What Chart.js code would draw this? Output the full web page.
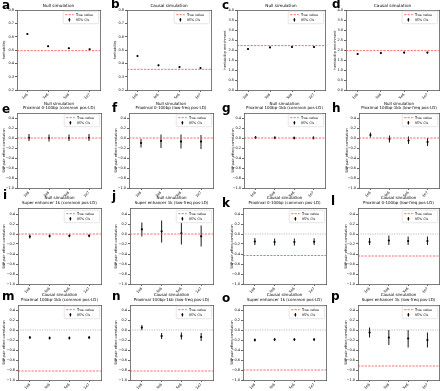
<!DOCTYPE html>
<html><head><meta charset="utf-8">
<script src="https://cdn.jsdelivr.net/npm/chart.js@4.4.1/dist/chart.umd.min.js"></script>
<style>
html,body{margin:0;padding:0;background:#fff;}
body{width:440px;height:391px;position:relative;overflow:hidden;}
canvas{position:absolute;}
.lt{position:absolute;font-family:"DejaVu Sans";font-weight:bold;font-size:12px;line-height:1;color:#000;}
</style></head><body>
<script>
// ---------------- data ----------------
const windowSizes = ['1e6', '3e6', '5e6', '1e7'];
const heritabilityTicks = [0.2, 0.3, 0.4, 0.5, 0.6, 0.7, 0.8];
const enrichmentTicks = [0, 0.5, 1, 1.5, 2, 2.5, 3, 3.5, 4];
const correlationTicks = [-1.0, -0.8, -0.6, -0.4, -0.2, 0.0, 0.2, 0.4];
const legendLabels = ['True value', '95% CIs'];
const panelLetters = ['a','b','c','d','e','f','g','h','i','j','k','l','m','n','o','p'];
const panelTitles = [
  ['Null simulation'], ['Causal simulation'], ['Null simulation'], ['Causal simulation'],
  ['Null simulation', 'Proximal 0-100bp (common pos-LD)'],
  ['Null simulation', 'Proximal 0-100bp (low-freq pos-LD)'],
  ['Null simulation', 'Proximal 100bp-1kb (common pos-LD)'],
  ['Null simulation', 'Proximal 100bp-1kb (low-freq pos-LD)'],
  ['Null simulation', 'Super enhancer 1k (common pos-LD)'],
  ['Null simulation', 'Super enhancer 1k (low-freq pos-LD)'],
  ['Causal simulation', 'Proximal 0-100bp (common pos-LD)'],
  ['Causal simulation', 'Proximal 0-100bp (low-freq pos-LD)'],
  ['Causal simulation', 'Proximal 100bp-1kb (common pos-LD)'],
  ['Causal simulation', 'Proximal 100bp-1kb (low-freq pos-LD)'],
  ['Causal simulation', 'Super enhancer 1k (common pos-LD)'],
  ['Causal simulation', 'Super enhancer 1k (low-freq pos-LD)']
];
const yAxisTitles = ['heritability', 'heritability', 'heritability enrichment', 'heritability enrichment'];
const correlationAxisTitle = 'SNP-pair effect correlation';
const trueValues = [0.495, 0.355, 2.22, 1.97, 0, 0, 0, 0, 0, 0, -0.43, -0.44, -0.82, -0.82, -0.8, -0.72];

const a_est = [0.62, 0.528, 0.513, 0.505], a_lo = [0.615, 0.523, 0.508, 0.5], a_hi = [0.625, 0.533, 0.518, 0.51];
const b_est = [0.455, 0.385, 0.372, 0.365], b_lo = [0.45, 0.38, 0.367, 0.36], b_hi = [0.46, 0.39, 0.377, 0.37];
const c_est = [2.05, 2.13, 2.15, 2.15], c_lo = [2.02, 2.1, 2.12, 2.12], c_hi = [2.08, 2.16, 2.18, 2.18];
const d_est = [1.8, 1.85, 1.87, 1.87], d_lo = [1.75, 1.81, 1.83, 1.83], d_hi = [1.85, 1.89, 1.91, 1.91];
const e_est = [0.005, 0.0, 0.0, 0.005], e_lo = [-0.06, -0.07, -0.06, -0.06], e_hi = [0.08, 0.07, 0.07, 0.08];
const f_est = [-0.1, -0.06, -0.07, -0.07], f_lo = [-0.19, -0.2, -0.21, -0.22], f_hi = [-0.02, 0.07, 0.07, 0.06];
const g_est = [0.01, 0.005, 0.0, 0.0], g_lo = [-0.02, -0.025, -0.03, -0.03], g_hi = [0.04, 0.035, 0.03, 0.035];
const h_est = [0.06, -0.02, -0.05, -0.08], h_lo = [0.01, -0.09, -0.12, -0.16], h_hi = [0.11, 0.05, 0.03, 0.0];
const i_est = [-0.05, -0.04, -0.035, -0.035], i_lo = [-0.09, -0.07, -0.065, -0.065], i_hi = [-0.01, -0.01, -0.005, -0.005];
const j_est = [0.093, 0.053, 0.013, -0.047], j_lo = [-0.05, -0.17, -0.21, -0.25], j_hi = [0.23, 0.27, 0.23, 0.17];
const k_est = [-0.15, -0.16, -0.16, -0.155], k_lo = [-0.22, -0.23, -0.23, -0.22], k_hi = [-0.08, -0.09, -0.09, -0.085];
const l_est = [-0.16, -0.13, -0.14, -0.14], l_lo = [-0.22, -0.22, -0.22, -0.22], l_hi = [-0.08, -0.03, -0.05, -0.05];
const m_est = [-0.15, -0.16, -0.16, -0.15], m_lo = [-0.18, -0.19, -0.19, -0.18], m_hi = [-0.12, -0.13, -0.13, -0.12];
const n_est = [0.05, -0.12, -0.12, -0.14], n_lo = [0.0, -0.18, -0.19, -0.22], n_hi = [0.1, -0.06, -0.05, -0.06];
const o_est = [-0.2, -0.19, -0.19, -0.19], o_lo = [-0.23, -0.22, -0.22, -0.22], o_hi = [-0.17, -0.16, -0.16, -0.16];
const p_est = [-0.05, -0.15, -0.17, -0.2], p_lo = [-0.15, -0.3, -0.35, -0.35], p_hi = [0.05, 0.0, 0.0, -0.05];

const estimates = [a_est,b_est,c_est,d_est,e_est,f_est,g_est,h_est,i_est,j_est,k_est,l_est,m_est,n_est,o_est,p_est];
const lowers = [a_lo,b_lo,c_lo,d_lo,e_lo,f_lo,g_lo,h_lo,i_lo,j_lo,k_lo,l_lo,m_lo,n_lo,o_lo,p_lo];
const uppers = [a_hi,b_hi,c_hi,d_hi,e_hi,f_hi,g_hi,h_hi,i_hi,j_hi,k_hi,l_hi,m_hi,n_hi,o_hi,p_hi];

// ---------------- layout ----------------
// [plotLeft, plotRight, yTitleX, letterX, letterBaseline]
const geom = [
  [17,100,4,2,9.5],[127,211,115,111,8.5],[237,325,224.7,222,9.3],[346,439,334.7,332,8.5],
  [17,101,4,2,113],[129,213,116,112,112],[244,325,232.7,222,112],[359,439,346.7,332,112],
  [18,101,4,3,199],[130,213,116,112,200],[243,326,232.3,222,207],[358,439,345.7,331,205],
  [18,101,4,2,300],[130,213,116,112,300],[243,326,232.3,222,302],[358,439,345.7,331,300]
];
const rowTop = [10, 113, 209, 305];
const rowBottom = [90, 188, 284, 380];
const rowTitleGap = [1.5, 2.4, 3.7, 3.0];
const FONT = '"DejaVu Sans"';
const RED = 'rgba(255,60,60,0.75)';
const FRAME = '#444';

function fmtTick(v) {
  const s = Math.abs(v) < 1e-9 ? '0.0' : v.toFixed(1);
  return s.replace('-', '\u2212');
}

const legendPlugin = {
  id: 'boxLegend',
  afterDatasetsDraw(chart) {
    const ca = chart.chartArea, ctx = chart.ctx;
    const w = 35.5, h = 12.5;
    const x = ca.right - 1.3 - w, y = ca.top + 1.2;
    ctx.save();
    ctx.beginPath();
    ctx.roundRect(x, y, w, h, 1.2);
    ctx.fillStyle = 'rgba(255,255,255,0.85)';
    ctx.fill();
    ctx.strokeStyle = '#d3d3d3';
    ctx.lineWidth = 0.6;
    ctx.stroke();
    ctx.setLineDash([2.2, 1.2]);
    ctx.strokeStyle = RED;
    ctx.lineWidth = 1;
    ctx.beginPath(); ctx.moveTo(x + 2, y + 3.5); ctx.lineTo(x + 10.5, y + 3.5); ctx.stroke();
    ctx.setLineDash([]);
    ctx.strokeStyle = '#000'; ctx.lineWidth = 0.9;
    ctx.beginPath(); ctx.moveTo(x + 6.2, y + 6.8); ctx.lineTo(x + 6.2, y + 10.4); ctx.stroke();
    ctx.beginPath(); ctx.arc(x + 6.2, y + 8.6, 0.95, 0, Math.PI * 2); ctx.fillStyle = '#000'; ctx.fill();
    ctx.font = '3.3px ' + FONT;
    ctx.fillStyle = '#000';
    ctx.textBaseline = 'middle';
    ctx.textAlign = 'left';
    ctx.fillText(legendLabels[0], x + 12.7, y + 3.6);
    ctx.fillText(legendLabels[1], x + 12.7, y + 8.7);
    ctx.restore();
  }
};

function buildDatasets(est, lo, hi, tv, showZero, xmin, xmax) {
  const ds = [];
  if (showZero) ds.push({data: [{x: xmin, y: 0}, {x: xmax, y: 0}], borderColor: 'rgba(150,150,150,0.9)', borderDash: [1.2, 1.2], borderWidth: 0.7, pointRadius: 0});
  ds.push({data: [{x: xmin, y: tv}, {x: xmax, y: tv}], borderColor: RED, borderDash: [2.2, 1.2], borderWidth: 1, pointRadius: 0});
  est.forEach((v, i) => ds.push({data: [{x: i, y: lo[i]}, {x: i, y: hi[i]}], borderColor: '#000', borderWidth: 0.9, pointRadius: 0}));
  ds.push({data: est.map((v, i) => ({x: i, y: v})), showLine: false, pointRadius: 1.1, pointBackgroundColor: '#000', pointBorderWidth: 0, borderColor: '#000'});
  return ds;
}

panelLetters.forEach((letter, p) => {
  const row = Math.floor(p / 4);
  const [pl, pr, ytx, lx, lb] = geom[p];
  const pt = rowTop[row], pb = rowBottom[row];
  const title = panelTitles[p];
  const tSize = row === 0 ? 4.2 : 4.0, tLh = row === 0 ? 1.1 : 1.15;
  const p1 = 0.5, p2 = rowTitleGap[row];
  const titleH = title.length * tSize * tLh + p1 + p2;
  const xmin = row === 0 ? -0.5 : -0.6, xmax = row === 0 ? 3.5 : 3.6;
  let ticks, ymin, ymax, ytitle;
  if (p < 2) { ticks = heritabilityTicks; ymin = 0.2; ymax = 0.8; ytitle = yAxisTitles[p]; }
  else if (p < 4) { ticks = enrichmentTicks; ymin = 0; ymax = 4; ytitle = yAxisTitles[p]; }
  else { ticks = correlationTicks; ymin = -1.0; ymax = 0.5; ytitle = correlationAxisTitle; }
  const ytSize = 3.4, ytLh = 1.2;
  const cLeft = Math.round(ytx - ytSize * ytLh / 2);
  const A = pl - cLeft;
  const ytPad = Math.max(0, ytx - cLeft - ytSize * ytLh / 2);
  const plotW = pr - pl;
  const cW = Math.round(plotW + 2 * A);
  const Aright = cW - A - plotW;
  const cTop = Math.floor(pt - titleH);
  const padTop = pt - titleH - cTop;
  const xH = 14;
  const cH = Math.ceil(pb - cTop + xH);
  const xHfit = cH - (pb - cTop);

  const cv = document.createElement('canvas');
  cv.width = cW; cv.height = cH;
  cv.style.left = cLeft + 'px'; cv.style.top = cTop + 'px';
  cv.style.width = cW + 'px'; cv.style.height = cH + 'px';
  document.body.appendChild(cv);

  const tickFont = {family: FONT, size: 3.5};
  const gridOpts = {display: true, drawOnChartArea: false, drawTicks: true, tickLength: 2, color: '#000', lineWidth: 0.6};
  const borderOpts = {display: true, color: FRAME, width: 0.7};
  const showZero = p >= 10;

  new Chart(cv, {
    type: 'line',
    data: {datasets: buildDatasets(estimates[p], lowers[p], uppers[p], trueValues[p], showZero, xmin, xmax)},
    plugins: [legendPlugin],
    options: {
      animation: false, responsive: false, events: [], devicePixelRatio: 1,
      layout: {padding: {top: padTop, left: 0, right: 0, bottom: 0}},
      plugins: {
        legend: {display: false}, tooltip: {enabled: false},
        title: {display: true, text: title, color: '#000', font: {family: FONT, size: tSize, lineHeight: tLh, weight: 'normal'}, padding: {top: p1, bottom: p2}}
      },
      scales: {
        x: {
          type: 'linear', position: 'bottom', min: xmin, max: xmax,
          afterBuildTicks: s => { s.ticks = windowSizes.map((_, i) => ({value: i})); },
          afterFit: s => { s.height = xHfit; },
          ticks: {callback: v => windowSizes[v], minRotation: 45, maxRotation: 45, autoSkip: false, font: tickFont, color: '#000', padding: 0.5},
          grid: gridOpts, border: borderOpts
        },
        x2: {
          type: 'linear', position: 'top', min: xmin, max: xmax,
          ticks: {display: false}, grid: {display: false}, border: borderOpts,
          afterFit: s => { s.height = 0; }
        },
        y: {
          type: 'linear', position: 'left', min: ymin, max: ymax,
          afterBuildTicks: s => { s.ticks = ticks.map(v => ({value: v})); },
          afterFit: s => { s.width = A; },
          ticks: {callback: v => fmtTick(v), font: tickFont, color: '#000', padding: 1},
          grid: gridOpts, border: borderOpts,
          title: {display: true, text: ytitle, color: '#000', font: {family: FONT, size: ytSize, lineHeight: ytLh}, padding: {top: ytPad, bottom: 0}}
        },
        y2: {
          type: 'linear', position: 'right', min: ymin, max: ymax,
          ticks: {display: false}, grid: {display: false}, border: borderOpts,
          afterFit: s => { s.width = Aright; }
        }
      }
    }
  });

  const d = document.createElement('div');
  d.className = 'lt';
  d.textContent = letter;
  d.style.left = lx + 'px';
  d.style.top = (lb - 10.15) + 'px';
  document.body.appendChild(d);
});
</script>
</body></html>
